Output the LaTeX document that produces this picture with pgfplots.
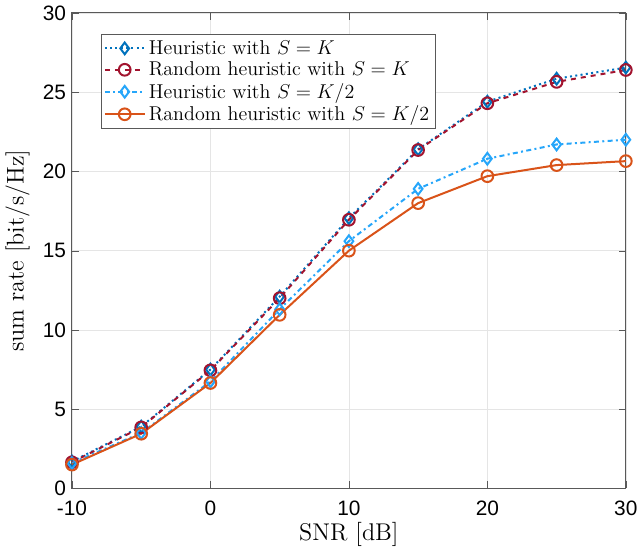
\documentclass[border=0pt]{standalone}
\usepackage{pgfplots}
\pgfplotsset{compat=1.18}
\usepackage{fontspec}
\newfontfamily\tickfont{Liberation Sans}
\definecolor{c1}{rgb}{0,0.447,0.741}
\definecolor{c2}{rgb}{0.635,0.078,0.184}
\definecolor{c3}{rgb}{0.15,0.65,0.98}
\definecolor{c4}{rgb}{0.85,0.325,0.098}
\begin{document}
\begin{tikzpicture}
\begin{axis}[
  scale only axis, width=332pt, height=285pt,
  xmin=-10, xmax=30, ymin=0, ymax=30,
  xtick={-10,0,10,20,30}, ytick={0,5,10,15,20,25,30},
  grid=major, grid style={gray!20},
  axis line style={gray!70!black, line width=0.6pt},
  tick style={gray!70!black},
  tick align=inside,
  ticklabel style={font=\tickfont\fontsize{12.5}{12.5}\selectfont},
  xticklabel style={yshift=-4pt},
  /pgf/number format/assume math mode=true,
  xlabel={SNR [dB]}, ylabel={sum rate [bit/s/Hz]},
  label style={font=\fontsize{14.5}{14.5}\selectfont},
  xlabel style={yshift=3pt}, ylabel style={yshift=1pt},
  legend style={at={(0.052,0.956)}, anchor=north west, font=\fontsize{12}{15}\selectfont,
    draw=gray!70!black, line width=0.6pt, inner sep=1.5pt, row sep=-1pt},
  legend cell align=left,
  legend image code/.code={\draw[mark repeat=2,mark phase=2] plot coordinates {(0cm,0cm) (0.42cm,0cm) (0.84cm,0cm)};},
  every axis plot/.append style={line width=1.2pt, mark size=3.5pt},
]
\addplot[c1, dotted, mark=diamond, mark options={solid}] coordinates {
(-10,1.7) (-5,3.9) (0,7.5) (5,12.1) (10,17.05) (15,21.4) (20,24.4) (25,25.85) (30,26.55)};
\addlegendentry{Heuristic with $S=K$}
\addplot[c2, dashed, mark=o, mark options={solid}] coordinates {
(-10,1.65) (-5,3.85) (0,7.45) (5,12.0) (10,16.95) (15,21.35) (20,24.3) (25,25.65) (30,26.4)};
\addlegendentry{Random heuristic with $S=K$}
\addplot[c3, dash dot, mark=diamond, mark options={solid}] coordinates {
(-10,1.6) (-5,3.5) (0,6.75) (5,11.3) (10,15.6) (15,18.9) (20,20.8) (25,21.7) (30,22.0)};
\addlegendentry{Heuristic with $S=K/2$}
\addplot[c4, solid, mark=o] coordinates {
(-10,1.5) (-5,3.45) (0,6.65) (5,10.95) (10,15.0) (15,18.0) (20,19.7) (25,20.4) (30,20.65)};
\addlegendentry{Random heuristic with $S=K/2$}
\end{axis}
\end{tikzpicture}
\end{document}
